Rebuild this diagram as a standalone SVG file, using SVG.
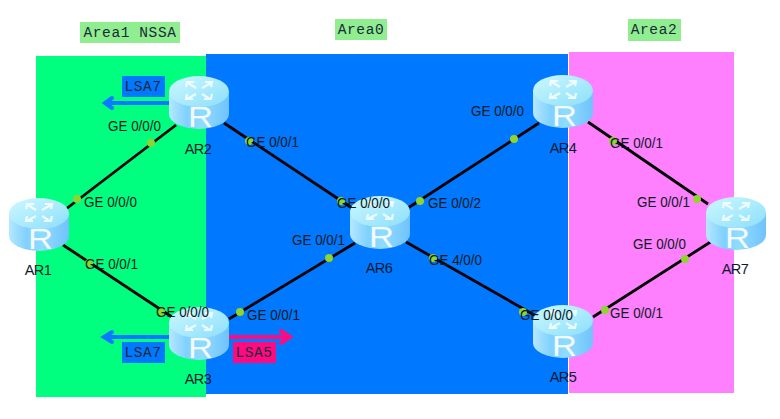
<svg xmlns="http://www.w3.org/2000/svg" width="780" height="419" viewBox="0 0 780 419">
<style>
.lnk{stroke:#000;stroke-width:2.800;fill:none}
.dot{fill:#8fd42f}
.if{font:14px "Liberation Sans",Arial,sans-serif;fill:#0a1a20}
.nm{font:14.500px "Liberation Sans",Arial,sans-serif;letter-spacing:-.5px;fill:#0a1a30;text-anchor:middle}
.mono{font:14.500px "Liberation Mono","Courier New",monospace;letter-spacing:.6px;fill:#1a2a3a;text-anchor:middle}
.tag{fill:#90ee90}
.rt{font:29px "Liberation Sans",Arial,sans-serif;fill:#fff;fill-opacity:.92}
.ic{fill:none;stroke:#fff;stroke-width:2.200;stroke-opacity:.8}
</style>
<defs>
<linearGradient id="side" x1="0" x2="1" y1="0" y2="0">
<stop offset="0" stop-color="#b5e8ff"/><stop offset=".3" stop-color="#80d0ff"/><stop offset=".55" stop-color="#90dcff"/><stop offset="1" stop-color="#70c2fc"/>
</linearGradient>
<linearGradient id="top" x1="0" x2="1" y1="0" y2="1">
<stop offset="0" stop-color="#ccf8ff"/><stop offset="1" stop-color="#8cdffb"/>
</linearGradient>
<g id="router">
<path d="M0 15V38A30 15 0 0 0 60 38V15Z" fill="url(#side)"/>
<ellipse cx="30" cy="15.500" rx="30" ry="15.500" fill="url(#top)"/>
<path class="ic" d="M27 12L19 7M17 11l1-5 7 0M33 12L42 7M36 6l7 0-1 5M27 18L18 23M18 18l-1 5 7 0M33 18L41 23M35 23l7 0 1-5"/>
<text class="rt" x="19" y="51" textLength="25" lengthAdjust="spacingAndGlyphs">R</text>
</g>
</defs>
<g id="areas">
<rect x="36" y="56" width="170" height="341" fill="#00ff7f"/>
<rect x="206" y="54" width="362" height="340" fill="#0078ff"/>
<rect x="569" y="52" width="165" height="341" fill="#ff80ff"/>
</g>
<g id="connectors">
<path class="lnk" d="M66 209L176 125"/>
<path class="lnk" d="M224 123L352 208"/>
<path class="lnk" d="M63 245L172 317"/>
<path class="lnk" d="M229 319L355 243"/>
<path class="lnk" d="M408 208L539 123"/>
<path class="lnk" d="M406 242L536 316"/>
<path class="lnk" d="M588 122L708 204"/>
<path class="lnk" d="M593 317L712 241"/>
<g fill="none" stroke-width="4" stroke-linecap="round">
<path stroke="#0a78ff" d="M169 103H105M112 98l-7 5 7 5"/>
<path stroke="#0a78ff" d="M169 337H104M112 332l-8 5 8 5"/>
<path stroke="#ff0a80" d="M229 337H290M281 331l9 6-9 6"/>
</g>
</g>
<g id="dots">
<circle class="dot" cx="151" cy="143" r="4"/><circle class="dot" cx="77" cy="199" r="4"/>
<circle class="dot" cx="89" cy="263" r="4"/><circle class="dot" cx="161" cy="312" r="4"/>
<circle class="dot" cx="249" cy="141" r="4"/><circle class="dot" cx="341" cy="201" r="4"/>
<circle class="dot" cx="240" cy="312" r="4"/><circle class="dot" cx="329" cy="258" r="4"/>
<circle class="dot" cx="420" cy="201" r="4"/><circle class="dot" cx="514" cy="139" r="4"/>
<circle class="dot" cx="433" cy="258" r="4"/><circle class="dot" cx="523" cy="312" r="4"/>
<circle class="dot" cx="613" cy="141" r="4"/><circle class="dot" cx="697" cy="199" r="4"/>
<circle class="dot" cx="605" cy="310" r="4"/><circle class="dot" cx="685" cy="259" r="4"/>
</g>
<g id="AR1"><use href="#router" x="9" y="198"/><text class="nm" x="38" y="275">AR1</text></g>
<g id="AR2"><use href="#router" x="169" y="76"/><text class="nm" x="198" y="154">AR2</text></g>
<g id="AR3"><use href="#router" x="169" y="307"/><text class="nm" x="198" y="384">AR3</text></g>
<g id="AR4"><use href="#router" x="533" y="75"/><text class="nm" x="563" y="153">AR4</text></g>
<g id="AR5"><use href="#router" x="533" y="305"/><text class="nm" x="563" y="382">AR5</text></g>
<g id="AR6"><use href="#router" x="350" y="196"/><text class="nm" x="379" y="273">AR6</text></g>
<g id="AR7"><use href="#router" x="706" y="197"/><text class="nm" x="735" y="274">AR7</text></g>
<g id="interface-labels">
<text class="if" x="108" y="131" textLength="53" lengthAdjust="spacingAndGlyphs">GE 0/0/0</text>
<text class="if" x="84" y="207" textLength="53" lengthAdjust="spacingAndGlyphs">GE 0/0/0</text>
<text class="if" x="85" y="269" textLength="53" lengthAdjust="spacingAndGlyphs">GE 0/0/1</text>
<text class="if" x="156" y="317" textLength="53" lengthAdjust="spacingAndGlyphs">GE 0/0/0</text>
<text class="if" x="246" y="147" textLength="53" lengthAdjust="spacingAndGlyphs">GE 0/0/1</text>
<text class="if" x="247" y="320" textLength="53" lengthAdjust="spacingAndGlyphs">GE 0/0/1</text>
<text class="if" x="337" y="208" textLength="53" lengthAdjust="spacingAndGlyphs">GE 0/0/0</text>
<text class="if" x="292" y="245" textLength="53" lengthAdjust="spacingAndGlyphs">GE 0/0/1</text>
<text class="if" x="428" y="208" textLength="53" lengthAdjust="spacingAndGlyphs">GE 0/0/2</text>
<text class="if" x="429" y="265" textLength="53" lengthAdjust="spacingAndGlyphs">GE 4/0/0</text>
<text class="if" x="520" y="320" textLength="53" lengthAdjust="spacingAndGlyphs">GE 0/0/0</text>
<text class="if" x="471" y="116" textLength="53" lengthAdjust="spacingAndGlyphs">GE 0/0/0</text>
<text class="if" x="610" y="148" textLength="53" lengthAdjust="spacingAndGlyphs">GE 0/0/1</text>
<text class="if" x="637" y="207" textLength="53" lengthAdjust="spacingAndGlyphs">GE 0/0/1</text>
<text class="if" x="633" y="249" textLength="53" lengthAdjust="spacingAndGlyphs">GE 0/0/0</text>
<text class="if" x="610" y="318" textLength="53" lengthAdjust="spacingAndGlyphs">GE 0/0/1</text>
</g>
<g id="area-labels">
<rect class="tag" x="80" y="22" width="100" height="21"/><text class="mono" x="130" y="37">Area1 NSSA</text>
<rect class="tag" x="335" y="19" width="52" height="21"/><text class="mono" x="361" y="34">Area0</text>
<rect class="tag" x="628" y="19" width="53" height="22"/><text class="mono" x="654" y="34">Area2</text>
</g>
<g id="lsa-labels">
<rect x="122" y="76" width="43" height="21" fill="#0078ff"/><text class="mono" x="143" y="91">LSA7</text>
<rect x="122" y="342" width="43" height="21" fill="#0078ff"/><text class="mono" x="143" y="357">LSA7</text>
<rect x="233" y="342" width="43" height="21" fill="#ff0a80"/><text class="mono" x="254" y="357">LSA5</text>
</g>
</svg>
